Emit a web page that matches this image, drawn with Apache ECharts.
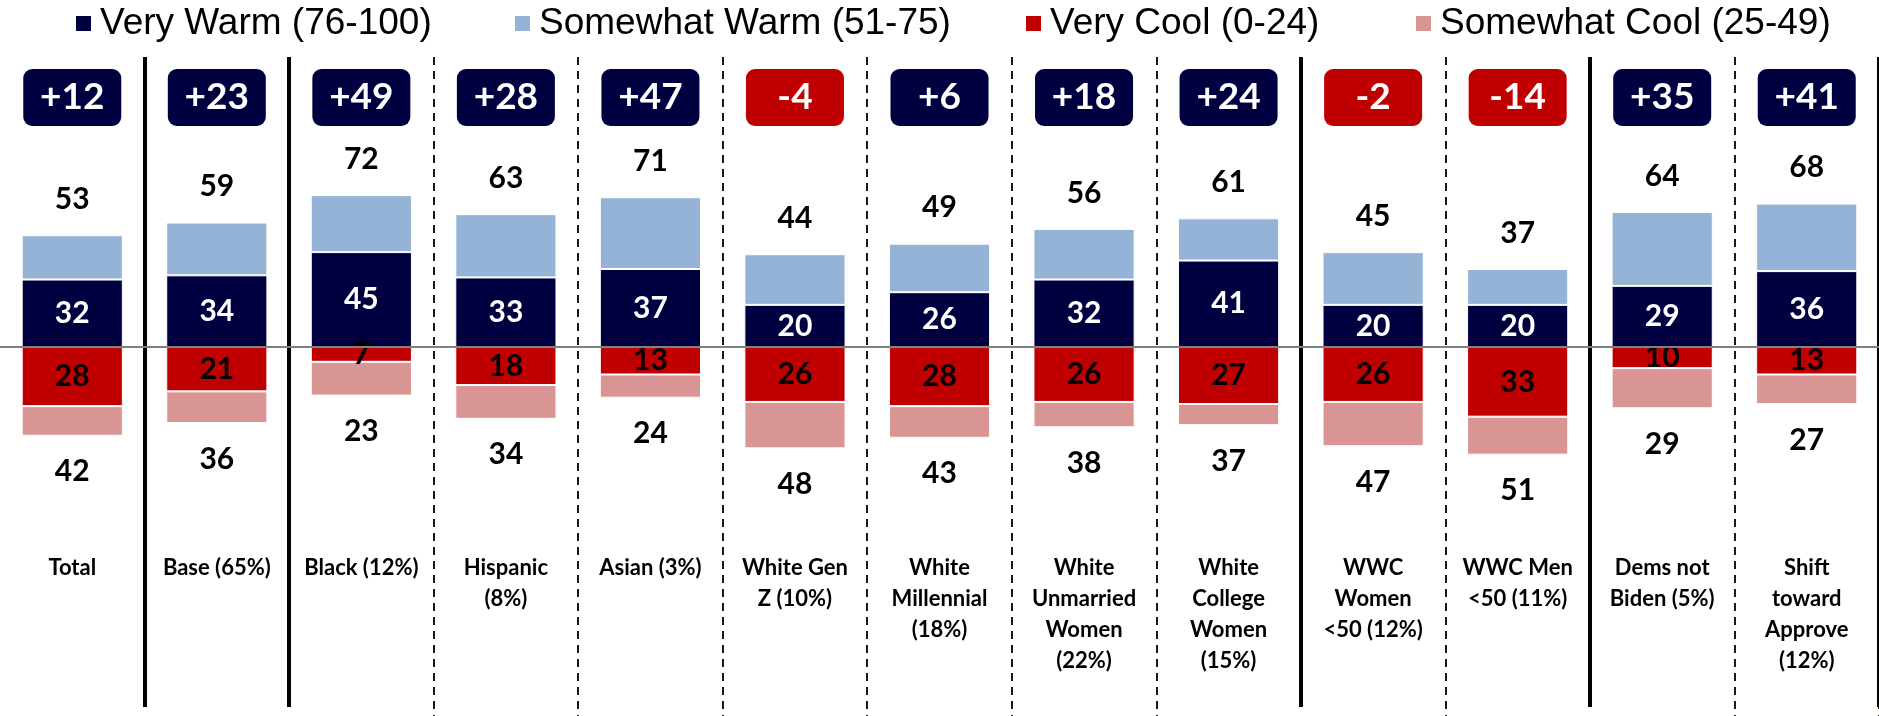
<!DOCTYPE html>
<html>
<head>
<meta charset="utf-8">
<script src="https://cdn.jsdelivr.net/npm/echarts@6/dist/echarts.min.js"></script>
<style>
html,body{margin:0;padding:0;background:#fff;}
#chart{width:1879px;height:716px;}
</style>
</head>
<body>
<div id="chart"></div>
<script>
// ---- data ----
const categories = [
  'Total', 'Base (65%)', 'Black (12%)', 'Hispanic\n(8%)', 'Asian (3%)',
  'White Gen\nZ (10%)', 'White\nMillennial\n(18%)', 'White\nUnmarried\nWomen\n(22%)',
  'White\nCollege\nWomen\n(15%)', 'WWC\nWomen\n<50 (12%)', 'WWC Men\n<50 (11%)',
  'Dems not\nBiden (5%)', 'Shift\ntoward\nApprove\n(12%)'
];
const veryWarm     = [32, 34, 45, 33, 37, 20, 26, 32, 41, 20, 20, 29, 36];
const somewhatWarm = [21, 25, 27, 30, 34, 24, 23, 24, 20, 25, 17, 35, 32];
const veryCool     = [28, 21,  7, 18, 13, 26, 28, 26, 27, 26, 33, 10, 13];
const somewhatCool = [14, 15, 16, 16, 11, 22, 15, 12, 10, 21, 18, 19, 14];
const warmTotals   = [53, 59, 72, 63, 71, 44, 49, 56, 61, 45, 37, 64, 68];
const coolTotals   = [42, 36, 23, 34, 24, 48, 43, 38, 37, 47, 51, 29, 27];
const netScores    = [12, 23, 49, 28, 47, -4, 6, 18, 24, -2, -14, 35, 41];
const seriesNames  = ['Very Warm (76-100)', 'Somewhat Warm (51-75)', 'Very Cool (0-24)', 'Somewhat Cool (25-49)'];
// divider before these category indices
const solidDividers  = [1, 2, 9, 11];
const dashedDividers = [3, 4, 5, 6, 7, 8, 10, 12];

// ---- styles ----
const NAVY = '#000040', LBLUE = '#95b3d7', RED = '#c00000', PINK = '#d99594';
const NUM_FONT = 'Lato';
const legendLefts = [69, 508, 1019, 1409];

const chart = echarts.init(document.getElementById('chart'), null, {renderer: 'canvas'});

const hiddenAxisBits = {axisLine: {show: false}, axisTick: {show: false}};

const option = {
  animation: false,
  backgroundColor: '#fff',
  legend: seriesNames.map((n, i) => ({
    data: [n], left: legendLefts[i], top: 0,
    icon: 'rect', itemWidth: 17, itemHeight: 17, itemGap: 0,
    selectedMode: false,
    textStyle: {fontFamily: 'Liberation Sans', fontSize: 37, color: '#000', padding: [0, 0, 0, 3]}
  })),
  grid: [
    {left: -7, right: -7, top: 58, bottom: 168.5},
    {left: -7, right: -7, top: 57, bottom: 0},
    {left: -7, right: -7, top: 57, bottom: 9},
    {left: -7, right: -7, top: 127, height: 1}
  ],
  xAxis: [
    Object.assign({gridIndex: 0, type: 'category', data: categories,
      axisLabel: {interval: 0, margin: 5, fontFamily: NUM_FONT, fontWeight: 'bold', fontSize: 22, lineHeight: 31, color: '#000'}
    }, hiddenAxisBits),
    Object.assign({gridIndex: 1, type: 'category', data: categories, axisLabel: {show: false},
      splitLine: {show: true, interval: (i) => dashedDividers.includes(i),
        lineStyle: {color: '#241810', width: 2, type: [8, 6]}}
    }, hiddenAxisBits),
    Object.assign({gridIndex: 2, type: 'category', data: categories, axisLabel: {show: false},
      splitLine: {show: true, interval: (i) => solidDividers.includes(i),
        lineStyle: {color: '#000', width: 4, type: 'solid'}}
    }, hiddenAxisBits),
    Object.assign({gridIndex: 3, type: 'category', position: 'top', data: categories,
      axisLabel: {interval: 0, margin: 1,
        formatter: (v, i) => netScores[i] > 0 ? '{pos|+' + netScores[i] + '}' : '{neg|' + netScores[i] + '}',
        rich: {
          pos: {color: '#fff', backgroundColor: NAVY, borderRadius: 9, width: 98, height: 57, lineHeight: 57,
                align: 'center', fontFamily: NUM_FONT, fontWeight: 'bold', fontSize: 37},
          neg: {color: '#fff', backgroundColor: RED, borderRadius: 9, width: 98, height: 57, lineHeight: 57,
                align: 'center', fontFamily: NUM_FONT, fontWeight: 'bold', fontSize: 37}
        }
      }
    }, hiddenAxisBits)
  ],
  yAxis: [
    {gridIndex: 0, type: 'value', min: -95, max: 137, show: false},
    {gridIndex: 1, type: 'value', min: 0, max: 1, show: false},
    {gridIndex: 2, type: 'value', min: 0, max: 1, show: false},
    {gridIndex: 3, type: 'value', min: 0, max: 1, show: false}
  ],
  series: [
    {
      name: seriesNames[0], type: 'bar', stack: 'rating', barWidth: '70%',
      data: veryWarm,
      itemStyle: {color: NAVY, borderColor: '#fff', borderWidth: 1},
      label: {show: true, position: 'inside', color: '#fff', fontFamily: NUM_FONT, fontWeight: 'bold', fontSize: 30},
      markLine: {
        silent: true, symbol: 'none', label: {show: false},
        lineStyle: {color: '#808080', width: 2, type: 'solid'},
        data: [{yAxis: 0}]
      }
    },
    {
      name: seriesNames[1], type: 'bar', stack: 'rating', barWidth: '70%',
      data: somewhatWarm,
      itemStyle: {color: LBLUE, borderColor: '#fff', borderWidth: 1},
      label: {show: true, position: 'top', distance: 21, color: '#000', fontFamily: NUM_FONT, fontWeight: 'bold', fontSize: 30,
        formatter: (p) => warmTotals[p.dataIndex]}
    },
    {
      name: seriesNames[2], type: 'bar', stack: 'rating', barWidth: '70%',
      data: veryCool.map(v => -v),
      itemStyle: {color: RED, borderColor: '#fff', borderWidth: 1},
      label: {show: true, position: 'inside', color: '#000', fontFamily: NUM_FONT, fontWeight: 'bold', fontSize: 30,
        formatter: (p) => veryCool[p.dataIndex]}
    },
    {
      name: seriesNames[3], type: 'bar', stack: 'rating', barWidth: '70%',
      data: somewhatCool.map(v => -v),
      itemStyle: {color: PINK, borderColor: '#fff', borderWidth: 1},
      label: {show: true, position: 'bottom', distance: 21, color: '#000', fontFamily: NUM_FONT, fontWeight: 'bold', fontSize: 30,
        formatter: (p) => coolTotals[p.dataIndex]}
    }
  ]
};
chart.setOption(option);
</script>
</body>
</html>
